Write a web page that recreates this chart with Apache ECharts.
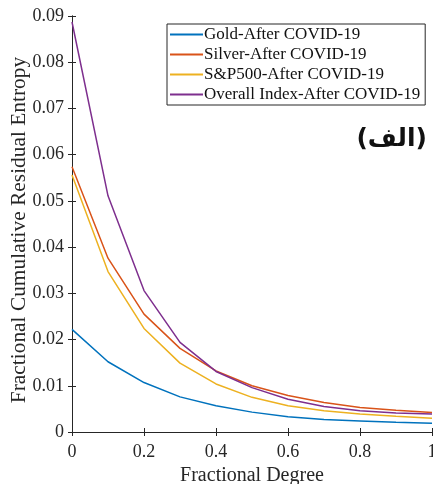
<!DOCTYPE html>
<html>
<head>
<meta charset="utf-8">
<script src="https://cdn.jsdelivr.net/npm/echarts@6/dist/echarts.min.js"></script>
<style>
  html, body { margin: 0; padding: 0; background: #fff; }
  #chart { width: 433px; height: 484px; }
</style>
</head>
<body>
<div id="chart"></div>
<script>
// fractional degree
const degrees = [0, 0.1, 0.2, 0.3, 0.4, 0.5, 0.6, 0.7, 0.8, 0.9, 1]

const gold = [0.0222, 0.0152, 0.0107, 0.0076, 0.0057, 0.0043, 0.0033, 0.0027, 0.0024, 0.0021, 0.0019]
const silver = [0.0574, 0.0376, 0.0255, 0.0181, 0.0132, 0.0100, 0.0079, 0.0064, 0.0053, 0.0047, 0.0042]
const sp500 = [0.0556, 0.0347, 0.0224, 0.0149, 0.0104, 0.0075, 0.0057, 0.0046, 0.0039, 0.0034, 0.0030]
const overall = [0.0887, 0.0511, 0.0306, 0.0194, 0.0131, 0.0096, 0.0071, 0.0055, 0.0046, 0.0041, 0.0039]

const seriesNames = [
  'Gold-After COVID-19',
  'Silver-After COVID-19',
  'S&P500-After COVID-19',
  'Overall Index-After COVID-19'
]
const colors = ['#0072BD', '#D95319', '#EDB120', '#7E2F8E']

const serif = '"Liberation Serif", "DejaVu Serif", serif'

const chart = echarts.init(document.getElementById('chart'))

const pair = (ys) => degrees.map((d, i) => [d, ys[i]])

const series = [gold, silver, sp500, overall].map((ys, i) => ({
  name: seriesNames[i],
  type: 'line',
  symbol: 'none',
  lineStyle: { color: colors[i], width: 1.5 },
  itemStyle: { color: colors[i] },
  data: pair(ys)
}))

const axisBase = {
  axisLine: { show: true, lineStyle: { color: '#262626', width: 1 } },
  axisTick: { show: true, inside: true, length: 4, lineStyle: { color: '#262626' } },
  splitLine: { show: false }
}

chart.setOption({
  backgroundColor: '#fff',
  animation: false,
  grid: { left: 72, right: 1, top: 16, bottom: 52, outerBoundsMode: 'none' },
  legend: {
    orient: 'vertical',
    left: 167,
    top: 24,
    padding: [2, 5, 2, 3],
    itemGap: 3,
    itemWidth: 33,
    itemHeight: 2,
    icon: 'rect',
    borderColor: '#262626',
    borderWidth: 1,
    backgroundColor: '#fff',
    textStyle: { fontFamily: serif, fontSize: 17, color: '#111', padding: [0, 0, 0, -4] },
    data: seriesNames
  },
  xAxis: [{
    ...axisBase,
    type: 'value',
    min: 0,
    max: 1,
    interval: 0.2,
    name: 'Fractional Degree',
    nameLocation: 'middle',
    nameGap: 34,
    nameTextStyle: { fontFamily: serif, fontSize: 20, color: '#262626' },
    axisLabel: {
      fontFamily: serif, fontSize: 18, color: '#262626', margin: 11,
      formatter: v => (v === 0 || v === 1) ? String(v) : v.toFixed(1)
    }
  }, {
    ...axisBase,
    type: 'value',
    position: 'top',
    min: 0,
    max: 1,
    interval: 0.2,
    axisLabel: { show: false }
  }],
  yAxis: [{
    ...axisBase,
    type: 'value',
    min: 0,
    max: 0.09,
    interval: 0.01,
    name: 'Fractional Cumulative Residual Entropy',
    nameLocation: 'middle',
    nameGap: 42,
    nameMoveOverlap: false,
    nameTextStyle: { fontFamily: serif, fontSize: 21.4, color: '#262626', padding: [0, 12, 0, 0] },
    axisLabel: {
      fontFamily: serif, fontSize: 18, color: '#262626', margin: 8,
      formatter: v => v === 0 ? '0' : v.toFixed(2)
    }
  }, {
    ...axisBase,
    type: 'value',
    position: 'right',
    min: 0,
    max: 0.09,
    interval: 0.01,
    axisLabel: { show: false }
  }],
  graphic: [{
    type: 'text',
    right: 6,
    top: 127,
    style: {
      text: '(الف)',
      font: 'bold 25px "DejaVu Sans", sans-serif',
      fill: '#111'
    }
  }],
  series
})
</script>
</body>
</html>
